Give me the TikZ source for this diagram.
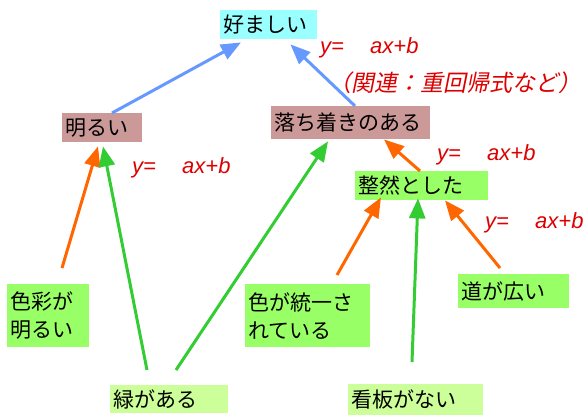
\documentclass[tikz,border=0pt]{standalone}
\usepackage{fontspec}
\usetikzlibrary{arrows.meta,calc}
\newfontfamily\jp{Noto Sans CJK JP}
\newfontfamily\jpsl[FakeSlant=0.2]{Noto Sans CJK JP}
\newfontfamily\lat{Liberation Sans}
\definecolor{bxcyan}{HTML}{99FFFF}
\definecolor{bxrose}{HTML}{CC9999}
\definecolor{bxgreen}{HTML}{99FF66}
\definecolor{bxlight}{HTML}{CCFF99}
\definecolor{arblue}{HTML}{6699FF}
\definecolor{arorange}{HTML}{FF6600}
\definecolor{argreen}{HTML}{33CC33}
\definecolor{lblred}{HTML}{DD0000}
\newcommand\yab{{\lat\itshape\makebox[50pt][l]{y=}ax+b}}
\begin{document}
\begin{tikzpicture}[x=1pt,y=-1pt,
  box/.style={anchor=north west, inner xsep=3pt, inner ysep=0pt, align=left,
    font=\jp\fontsize{21pt}{28pt}\selectfont, text=black},
  lbl/.style={anchor=west, inner sep=0pt, text=lblred, font=\fontsize{22pt}{26pt}\selectfont},
  arr/.style={line width=3pt, -{Triangle[length=20pt,width=16pt]}}]
\useasboundingbox (0,0) rectangle (586,417);
% boxes
\node[box, fill=bxcyan,  text width=91pt,  minimum height=29pt] (top) at (220,10) {好ましい};
\node[box, fill=bxrose,  text width=74pt,  minimum height=29pt] (bright) at (62,113) {明るい};
\node[box, fill=bxrose,  text width=153pt, minimum height=33pt] (calm) at (271,106) {落ち着きのある};
\node[box, fill=bxgreen, text width=127pt, minimum height=29pt] (orderly) at (355,171) {整然とした};
\node[box, fill=bxgreen, text width=76pt,  minimum height=63pt] (colorbright) at (7,284) {色彩が\\明るい};
\node[box, fill=bxgreen, text width=119pt, minimum height=63pt] (unified) at (245,284) {色が統一さ\\れている};
\node[box, fill=bxlight, text width=112pt, minimum height=28pt] (greenery) at (110,385) {緑がある};
\node[box, fill=bxgreen, text width=105pt, minimum height=34pt] (road) at (458,274) {道が広い};
\node[box, fill=bxlight, text width=129pt, minimum height=31pt] (signs) at (348,384) {看板がない};
% labels
\node[lbl] (l1) at (320,48) {\yab};
\node[lbl, font=\jpsl\fontsize{23pt}{26pt}\selectfont] (l2) at (328,83) {（関連：重回帰式など）};
\node[lbl] (l3) at (132,168) {\yab};
\node[lbl] (l4) at (437,155) {\yab};
\node[lbl] (l5) at (485,223) {\yab};
% arrows
\draw[arr, arblue] ($(bright.north west)+(50,0)$) -- ($(top.south west)+(21,3)$);
\draw[arr, arblue] ($(calm.north west)+(84,0)$) -- ($(top.south east)+(-27,5)$);
\draw[arr, arorange] ($(colorbright.north west)+(55,-16)$) -- ($(bright.south west)+(36,4)$);
\draw[arr, argreen] ($(greenery.north west)+(37,-15)$) -- ($(bright.south west)+(41,4)$);
\draw[arr, argreen] ($(greenery.north west)+(66,-15)$) -- ($(calm.south west)+(57,2)$);
\draw[arr, arorange] ($(orderly.north west)+(65,0)$) -- ($(calm.south west)+(113,0)$);
\draw[arr, arorange] ($(unified.north west)+(92,-9)$) -- ($(orderly.south west)+(26,-3)$);
\draw[arr, argreen] ($(signs.north west)+(64,-22)$) -- ($(orderly.south west)+(63,-2)$);
\draw[arr, arorange] ($(road.north west)+(42,-6)$) -- ($(orderly.south west)+(90,0)$);
\end{tikzpicture}
\end{document}
